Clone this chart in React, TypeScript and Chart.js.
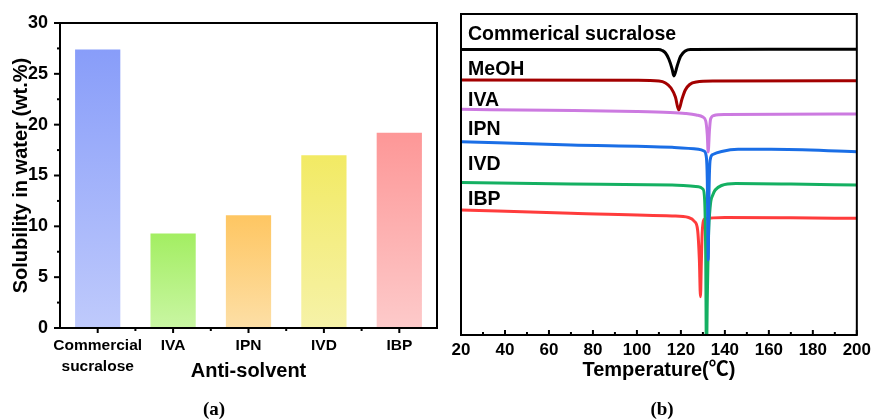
import React, { useEffect, useRef } from 'react';
import { Chart, registerables } from 'chart.js';
Chart.register(...registerables);

// ---------- Panel (a) data ----------
const categories: (string | string[])[] = [['Commercial', 'sucralose'], 'IVA', 'IPN', 'IVD', 'IBP'];
const solubility = [27.4, 9.3, 11.1, 17.0, 19.2];
const yMin = 0;
const yMax = 30;
const yStep = 5;
const barTopColors = ['#889df9', '#a3ee62', '#fec662', '#f2ea64', '#fd9797'];
const barBottomColors = ['#bfcafc', '#c9f6a3', '#fddfa6', '#f6f2a8', '#fdcaca'];

// ---------- Panel (b) data (DSC curves, heat flow in arbitrary offset units) ----------
const curveNames = ['Commerical sucralose', 'MeOH', 'IVA', 'IPN', 'IVD', 'IBP'];
const curveColors = ['#000000', '#a30000', '#cc7ae0', '#1a6ee6', '#14b062', '#ff3c3c'];
const labelLevels = [300, 265, 234, 205, 170, 135];

const sucraloseT = [20, 60, 100, 110, 111.5, 113, 114.5, 116, 116.8, 118.3, 119.8, 122, 124.3, 160, 200];
const sucraloseH = [285.5, 285.5, 285.5, 285.6, 284.5, 282, 276, 266, 259, 269, 278.5, 284, 285.5, 285.8, 285.8];

const meohT = [20, 100, 110, 113, 115.5, 117.5, 119, 120.5, 122, 124, 127, 135, 200];
const meohH = [255, 254.7, 254, 252, 247, 238, 225, 236, 245, 250.5, 253, 254, 254.3];

const ivaT = [20, 60, 100, 115, 122, 127, 130, 131.3, 132, 132.4, 133, 133.5, 135, 140, 200];
const ivaH = [225.7, 224.7, 223.5, 222.5, 221.5, 220, 218, 214, 200, 183, 205, 216, 219.5, 220.5, 221];

const ipnT = [20, 70, 116, 128, 130.5, 131.5, 132, 132.4, 132.8, 133.3, 134.5, 138.5, 146, 161, 200];
const ipnH = [193.3, 190, 187.7, 185.7, 184, 179, 155, 75, 145, 175, 180.5, 183.5, 185.7, 185.7, 183.3];

const ivdT = [20, 70, 116, 128, 130, 130.8, 131.3, 131.6, 132, 132.5, 133.4, 134.5, 135.6, 138.5, 145, 170, 200];
const ivdH = [152.5, 151, 150, 148.3, 146, 135, 75, -25, 35, 95, 130, 140, 145, 149.5, 151.5, 151, 150];

const ibpT = [20, 70, 116, 123.5, 126.2, 127.6, 128.4, 128.9, 129.3, 129.7, 130.8, 140, 170, 200];
const ibpH = [125, 121.7, 119, 117.5, 113.5, 105, 75, 38.3, 73, 103, 116, 117.5, 117.2, 116.7];

const curveTemps = [sucraloseT, meohT, ivaT, ipnT, ivdT, ibpT];
const curveHeat = [sucraloseH, meohH, ivaH, ipnH, ivdH, ibpH];
const curveOrder = [3, 3, 2, 0, 1, 3];

const tMin = 20;
const tMax = 200;
const tStep = 20;
const hMin = 0;
const hMax = 321;

const SANS = '"Liberation Sans", Arial, "Noto Sans CJK SC", sans-serif';
const SERIF = '"Liberation Serif", "Times New Roman", serif';

function line(ctx: CanvasRenderingContext2D, x1: number, y1: number, x2: number, y2: number) {
  ctx.beginPath();
  ctx.moveTo(x1, y1);
  ctx.lineTo(x2, y2);
  ctx.stroke();
}

function BarPanel() {
  const ref = useRef<HTMLCanvasElement>(null);
  useEffect(() => {
    const canvas = ref.current!;
    const framePlugin = {
      id: 'frameA',
      afterDraw(chart: any) {
        const { ctx, chartArea: a, scales } = chart;
        const x = scales.x;
        const y = scales.y;
        ctx.save();
        ctx.strokeStyle = '#000';
        ctx.lineWidth = 2;
        ctx.strokeRect(a.left, a.top, a.right - a.left, a.bottom - a.top);
        for (let v = yMin; v <= yMax + 1e-9; v += yStep / 2) {
          const p = y.getPixelForValue(v);
          const major = Math.abs(v / yStep - Math.round(v / yStep)) < 1e-6;
          line(ctx, a.left - (major ? 6 : 3), p, a.left, p);
        }
        for (let i = 0; i < categories.length; i++) {
          const p = x.getPixelForValue(i);
          line(ctx, p, a.bottom, p, a.bottom + 5);
          if (i < categories.length - 1) {
            const q = (p + x.getPixelForValue(i + 1)) / 2;
            line(ctx, q, a.bottom, q, a.bottom + 3);
          }
        }
        ctx.fillStyle = '#000';
        ctx.font = 'bold 19px ' + SERIF;
        ctx.textAlign = 'center';
        ctx.textBaseline = 'middle';
        ctx.fillText('(a)', 214, 410);
        ctx.restore();
      },
    };
    const chart = new Chart(canvas, {
      type: 'bar',
      data: {
        labels: categories as any,
        datasets: [
          {
            data: solubility,
            barPercentage: 0.6,
            categoryPercentage: 1,
            borderWidth: 0,
            backgroundColor: (c: any) => {
              const ch = c.chart;
              const i = c.dataIndex ?? 0;
              if (!ch.chartArea || c.type !== 'data') return barTopColors[i];
              const ys = ch.scales.y;
              const top = ys.getPixelForValue(solubility[i]);
              const bottom = ys.getPixelForValue(0);
              const g = ch.ctx.createLinearGradient(0, top, 0, bottom);
              g.addColorStop(0, barTopColors[i]);
              g.addColorStop(1, barBottomColors[i]);
              return g;
            },
          },
        ],
      },
      options: {
        responsive: false,
        animation: false,
        events: [],
        layout: { padding: { left: 0, right: 3, top: 23, bottom: 0 } },
        plugins: { legend: { display: false }, tooltip: { enabled: false } },
        scales: {
          x: {
            offset: true,
            grid: { display: false, drawTicks: false },
            border: { display: false },
            ticks: {
              color: '#000',
              padding: 8,
              maxRotation: 0,
              autoSkip: false,
              font: { family: SANS, size: 15.5, weight: 'bold', lineHeight: 1.3 },
            },
            title: {
              display: true,
              text: 'Anti-solvent',
              color: '#000',
              font: { family: SANS, size: 20, weight: 'bold' },
              padding: { top: 0, bottom: 36 },
            },
            afterFit: (s: any) => {
              s.height = 91;
            },
          },
          y: {
            min: yMin,
            max: yMax,
            grid: { display: false, drawTicks: false },
            border: { display: false },
            ticks: {
              stepSize: yStep,
              color: '#000',
              padding: 12,
              font: { family: SANS, size: 18, weight: 'bold' },
            },
            title: {
              display: true,
              text: 'Solubility in water (wt.%)',
              color: '#000',
              font: { family: SANS, size: 20, weight: 'bold' },
              padding: { top: 9, bottom: 0 },
            },
            afterFit: (s: any) => {
              s.width = 60;
            },
          },
        },
      } as any,
      plugins: [framePlugin],
    });
    return () => chart.destroy();
  }, []);
  return <canvas ref={ref} width={440} height={419} style={{ display: 'block' }} />;
}

function DscPanel() {
  const ref = useRef<HTMLCanvasElement>(null);
  useEffect(() => {
    const canvas = ref.current!;
    const framePlugin = {
      id: 'frameB',
      afterDraw(chart: any) {
        const { ctx, chartArea: a, scales } = chart;
        const x = scales.x;
        const y = scales.y;
        ctx.save();
        ctx.strokeStyle = '#000';
        ctx.lineWidth = 2;
        ctx.strokeRect(a.left, a.top, a.right - a.left, a.bottom - a.top);
        for (let t = tMin; t <= tMax; t += tStep / 2) {
          const p = x.getPixelForValue(t);
          const major = (t - tMin) % tStep === 0;
          line(ctx, p, a.bottom, p, a.bottom - (major ? 5 : 3));
        }
        ctx.fillStyle = '#000';
        ctx.font = 'bold 19.5px ' + SANS;
        ctx.textAlign = 'left';
        ctx.textBaseline = 'middle';
        curveNames.forEach((n, i) => {
          ctx.fillText(n, x.getPixelForValue(23.2), y.getPixelForValue(labelLevels[i]));
        });
        ctx.font = 'bold 19px ' + SERIF;
        ctx.textAlign = 'center';
        ctx.fillText('(b)', 222, 410);
        ctx.restore();
      },
    };
    const chart = new Chart(canvas, {
      type: 'line',
      data: {
        datasets: curveNames.map((n, i) => ({
          label: n,
          data: curveTemps[i].map((t, j) => ({ x: t, y: curveHeat[i][j] })),
          borderColor: curveColors[i],
          borderWidth: 3,
          pointRadius: 0,
          cubicInterpolationMode: 'monotone',
          fill: false,
          order: curveOrder[i],
        })),
      },
      options: {
        responsive: false,
        animation: false,
        events: [],
        layout: { padding: { left: 21, right: 17, top: 14, bottom: 0 } },
        plugins: { legend: { display: false }, tooltip: { enabled: false } },
        scales: {
          x: {
            type: 'linear',
            min: tMin,
            max: tMax,
            grid: { display: false, drawTicks: false },
            border: { display: false },
            ticks: {
              stepSize: tStep,
              color: '#000',
              padding: 5,
              font: { family: SANS, size: 17, weight: 'bold' },
            },
            title: {
              display: true,
              text: 'Temperature(℃)',
              color: '#000',
              font: { family: SANS, size: 20, weight: 'bold' },
              padding: { top: 0, bottom: 37 },
            },
            afterFit: (s: any) => {
              s.height = 84;
            },
          },
          y: {
            type: 'linear',
            min: hMin,
            max: hMax,
            display: false,
          },
        },
      } as any,
      plugins: [framePlugin],
    });
    return () => chart.destroy();
  }, []);
  return <canvas ref={ref} width={436} height={419} style={{ display: 'block' }} />;
}

export default function App() {
  return (
    <div style={{ position: 'absolute', left: 0, top: 0, width: 876, height: 419, background: '#fff' }}>
      <div style={{ position: 'absolute', left: 0, top: 0, width: 440, height: 419 }}>
        <BarPanel />
      </div>
      <div style={{ position: 'absolute', left: 440, top: 0, width: 436, height: 419 }}>
        <DscPanel />
      </div>
    </div>
  );
}
